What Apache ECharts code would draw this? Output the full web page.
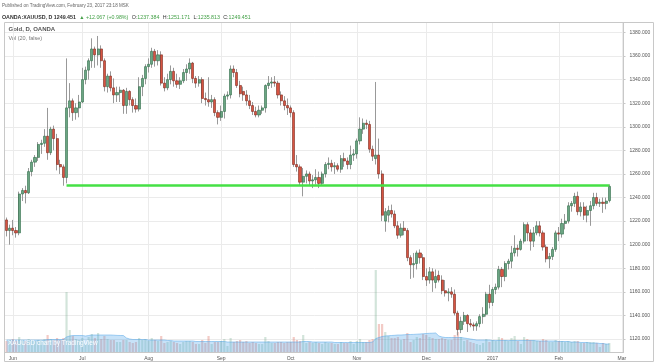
<!DOCTYPE html>
<html><head><meta charset="utf-8">
<script src="https://cdn.jsdelivr.net/npm/echarts@6/dist/echarts.min.js"></script>
<style>html,body{margin:0;padding:0;background:#fff}#c{width:654px;height:364px}</style>
</head><body><div id="c"></div><script>
const dates = ['2016-05-30','2016-05-31',
'2016-06-01','2016-06-02','2016-06-03','2016-06-06','2016-06-07','2016-06-08','2016-06-09','2016-06-10','2016-06-13','2016-06-14','2016-06-15','2016-06-16','2016-06-17','2016-06-20','2016-06-21','2016-06-22','2016-06-23','2016-06-24','2016-06-27','2016-06-28','2016-06-29','2016-06-30',
'2016-07-01','2016-07-04','2016-07-05','2016-07-06','2016-07-07','2016-07-08','2016-07-11','2016-07-12','2016-07-13','2016-07-14','2016-07-15','2016-07-18','2016-07-19','2016-07-20','2016-07-21','2016-07-22','2016-07-25','2016-07-26','2016-07-27','2016-07-28','2016-07-29',
'2016-08-01','2016-08-02','2016-08-03','2016-08-04','2016-08-05','2016-08-08','2016-08-09','2016-08-10','2016-08-11','2016-08-12','2016-08-15','2016-08-16','2016-08-17','2016-08-18','2016-08-19','2016-08-22','2016-08-23','2016-08-24','2016-08-25','2016-08-26','2016-08-29','2016-08-30','2016-08-31',
'2016-09-01','2016-09-02','2016-09-05','2016-09-06','2016-09-07','2016-09-08','2016-09-09','2016-09-12','2016-09-13','2016-09-14','2016-09-15','2016-09-16','2016-09-19','2016-09-20','2016-09-21','2016-09-22','2016-09-23','2016-09-26','2016-09-27','2016-09-28','2016-09-29','2016-09-30',
'2016-10-03','2016-10-04','2016-10-05','2016-10-06','2016-10-07','2016-10-10','2016-10-11','2016-10-12','2016-10-13','2016-10-14','2016-10-17','2016-10-18','2016-10-19','2016-10-20','2016-10-21','2016-10-24','2016-10-25','2016-10-26','2016-10-27','2016-10-28','2016-10-31',
'2016-11-01','2016-11-02','2016-11-03','2016-11-04','2016-11-07','2016-11-08','2016-11-09','2016-11-10','2016-11-11','2016-11-14','2016-11-15','2016-11-16','2016-11-17','2016-11-18','2016-11-21','2016-11-22','2016-11-23','2016-11-24','2016-11-25','2016-11-28','2016-11-29','2016-11-30',
'2016-12-01','2016-12-02','2016-12-05','2016-12-06','2016-12-07','2016-12-08','2016-12-09','2016-12-12','2016-12-13','2016-12-14','2016-12-15','2016-12-16','2016-12-19','2016-12-20','2016-12-21','2016-12-22','2016-12-23','2016-12-27','2016-12-28','2016-12-29','2016-12-30',
'2017-01-03','2017-01-04','2017-01-05','2017-01-06','2017-01-09','2017-01-10','2017-01-11','2017-01-12','2017-01-13','2017-01-16','2017-01-17','2017-01-18','2017-01-19','2017-01-20','2017-01-23','2017-01-24','2017-01-25','2017-01-26','2017-01-27','2017-01-30','2017-01-31',
'2017-02-01','2017-02-02','2017-02-03','2017-02-06','2017-02-07','2017-02-08','2017-02-09','2017-02-10','2017-02-13','2017-02-14','2017-02-15','2017-02-16','2017-02-17','2017-02-20','2017-02-21','2017-02-22','2017-02-23','2017-02-24','2017-02-27','2017-02-28','2017-03-01'];

const opens = [1221,1212,1214,1212,1210,1243,1246,1244,1262,1270,
1274,1285,1286,1292,1278,1298,1290,1268,1266,1257,
1316,1322,1312,1316,1321,1340,1348,1356,1366,1361,
1366,1356,1334,1343,1333,1327,1329,1331,1318,1330,
1323,1318,1315,1334,1341,1351,1353,1364,1356,1361,
1337,1333,1340,1347,1339,1336,1339,1346,1349,1354,
1341,1337,1340,1324,1323,1321,1323,1312,1308,1313,
1326,1327,1349,1346,1335,1330,1327,1322,1318,1313,
1310,1314,1316,1335,1337,1338,1337,1327,1322,1318,
1316,1312,1268,1266,1253,1258,1260,1254,1255,1257,
1252,1260,1268,1269,1266,1267,1264,1273,1271,1268,
1276,1277,1288,1298,1303,1302,1281,1273,1276,1260,
1220,1225,1229,1226,1216,1208,1214,1212,1189,1183,
1184,1193,1189,1173,1170,1177,1168,1174,1170,1161,
1159,1160,1158,1142,1128,1135,1140,1133,1132,1131,
1133,1139,1141,1158,1151,1162,1164,1179,1173,1184,
1186,1193,1197,1196,1203,1217,1210,1203,1210,1216,
1210,1198,1188,1190,1196,1210,1209,1218,1220,1233,
1235,1241,1228,1232,1225,1229,1233,1240,1235,1236,
1235,1237.384];
const highs = [1223,1217,1221,1215,1245,1248,1250,1265,1272,1276,
1287,1289,1298,1316,1300,1301,1294,1272,1268,1358,
1337,1324,1320,1327,1350,1351,1358,1375,1368,1377,
1369,1358,1345,1347,1341,1334,1334,1332,1333,1331,
1325,1324,1342,1344,1353,1358,1367,1366,1365,1364,
1342,1345,1352,1350,1345,1342,1349,1353,1358,1355,
1343,1343,1342,1329,1342,1327,1325,1314,1318,1328,
1330,1352,1352,1349,1339,1334,1331,1327,1321,1317,
1318,1318,1336,1343,1342,1343,1339,1330,1326,1324,
1318,1314,1276,1268,1265,1263,1262,1259,1264,1262,
1262,1270,1274,1272,1270,1269,1276,1278,1274,1284,
1281,1290,1308,1307,1306,1305,1284,1338,1290,1263,
1231,1233,1234,1229,1220,1218,1220,1214,1191,1193,
1195,1196,1192,1180,1181,1180,1179,1178,1174,1170,
1163,1164,1162,1144,1139,1143,1141,1137,1134,1135,
1141,1147,1160,1166,1164,1167,1182,1181,1186,1188,
1199,1208,1200,1205,1219,1219,1213,1215,1220,1220,
1212,1200,1193,1198,1212,1215,1222,1226,1236,1237,
1244,1245,1236,1236,1233,1237,1244,1244,1239,1240,
1240,1251.171];
const lows = [1207,1200,1208,1206,1208,1237,1235,1243,1258,1266,
1271,1277,1283,1272,1276,1280,1263,1260,1250,1252,
1308,1305,1306,1308,1320,1336,1340,1350,1350,1352,
1350,1330,1329,1330,1320,1321,1321,1311,1311,1318,
1312,1312,1313,1326,1336,1346,1350,1351,1352,1335,
1330,1331,1336,1334,1333,1332,1337,1339,1345,1337,
1333,1334,1320,1318,1317,1316,1309,1302,1305,1307,
1323,1324,1342,1333,1325,1322,1318,1315,1310,1308,
1308,1311,1312,1332,1333,1334,1324,1318,1314,1310,
1308,1266,1262,1250,1241,1252,1250,1248,1251,1248,
1250,1257,1264,1262,1260,1262,1261,1266,1264,1264,
1271,1273,1285,1294,1298,1278,1271,1268,1256,1220,
1211,1219,1223,1214,1205,1206,1208,1186,1171,1172,
1179,1184,1170,1165,1167,1160,1163,1168,1158,1156,
1152,1155,1140,1123,1125,1132,1126,1130,1127,1127,
1130,1133,1139,1146,1148,1158,1162,1164,1169,1179,
1180,1190,1190,1195,1201,1203,1195,1198,1208,1207,
1195,1185,1180,1187,1194,1203,1206,1213,1218,1228,
1232,1225,1224,1221,1219,1216,1230,1233,1232,1227,
1230,1235.813];
const closes = [1212,1214,1212,1210,1243,1246,1244,1262,1270,1274,
1285,1286,1292,1278,1298,1290,1268,1266,1257,1316,
1322,1312,1316,1321,1340,1348,1356,1366,1361,1366,
1356,1334,1343,1333,1327,1329,1331,1318,1330,1323,
1318,1315,1334,1341,1351,1353,1364,1356,1361,1337,
1333,1340,1347,1339,1336,1339,1346,1349,1354,1341,
1337,1340,1324,1323,1321,1323,1312,1308,1313,1326,
1327,1349,1346,1335,1328,1327,1322,1318,1313,1310,
1314,1316,1335,1337,1338,1337,1327,1322,1318,1316,
1312,1268,1266,1253,1258,1260,1254,1255,1257,1252,
1260,1268,1269,1266,1267,1264,1273,1271,1268,1276,
1277,1288,1298,1303,1302,1281,1275,1276,1260,1225,
1228,1229,1226,1216,1208,1214,1212,1189,1183,1184,
1193,1189,1173,1170,1177,1170,1173,1170,1161,1159,
1160,1158,1142,1128,1135,1140,1133,1132,1131,1133,
1139,1141,1158,1151,1162,1164,1179,1173,1184,1186,
1193,1197,1196,1203,1217,1210,1203,1210,1216,1210,
1198,1188,1190,1196,1210,1209,1218,1220,1233,1235,
1241,1228,1232,1225,1229,1233,1240,1235,1236,1235,
1237,1249.451];
const volumes = [11,12,13,11,15,12,11,13,12,11,12,12,13,17,13,12,14,12,14,
60,
22,16,13,12,14,8,15,18,14,19,13,16,13,12,12,10,10,12,12,10,9,10,14,12,13,
11,14,12,11,16,9,10,11,10,9,8,10,11,11,10,8,8,12,9,16,8,10,10,
11,13,6,14,10,11,12,10,11,9,10,9,8,8,15,11,9,9,10,10,9,10,
10,15,12,11,17,9,10,9,10,9,8,10,9,9,8,8,10,9,9,11,8,
11,13,10,10,12,13,82,28,28,20,16,14,14,15,12,13,19,10,12,15,14,18,
17,15,14,13,13,14,13,12,12,17,20,15,11,12,10,9,8,7,9,13,10,
12,11,15,14,12,11,14,16,11,8,15,13,12,12,11,11,13,12,10,10,12,
11,11,10,11,10,11,11,9,9,10,10,10,9,5,9,8,9];
const volumeMA = [12,12,12,12,12,12,12,12,12,12,12,12,12,12.5,12.5,12.5,12.5,12.5,12.5,
15,16,16.5,16.5,16.5,16.5,16,16.5,17,17,17,17,17,17,17,16.8,16.6,16.5,16.5,14,13,12.5,12.5,12.5,12.5,12.5,
12,12,12,12,12,12,11.5,11.5,11,11,11,11,11,11,11,10.5,10.5,10.5,10.5,10.5,10.5,10.5,10.5,
10.5,10.5,10,10,10,10,10,10,10,10,10,10,10,10,10,10,10,10,10,10,10,10,
10,10,10,10,10.5,10.5,10.5,10,10,10,10,10,10,10,9.5,9.5,9.5,9.5,9.5,9.5,9.5,
9.5,9.5,9.5,9.5,9.5,10,13.5,14.5,15.5,16,16.3,16.5,16.7,17,17,17.2,17.5,17.5,17.6,17.8,18,18.3,
18.5,18.7,18.8,19,16,15,14.5,14.5,14.5,14.5,14.5,14.5,14,13.5,13,12.5,12,12,12,12,12,
11.5,11.5,11.5,11.5,11.5,11.5,11.5,11.5,11.5,11.5,11.5,11.5,11.5,11.5,11.2,11,11,11,11,11,11,
10.5,10.5,10.5,10.5,10,10,10,9.5,9.5,9.5,9,9,9,8.5,8.5,8,8];
const monthStarts = ['2016-06-01','2016-07-01','2016-08-01','2016-09-01','2016-10-03','2016-11-01','2016-12-01','2017-01-03','2017-02-01','2017-03-01'];
const monthNames = ['Jun','Jul','Aug','Sep','Oct','Nov','Dec','2017','Feb','Mar'];
const priceTicks = [1120,1140,1160,1180,1200,1220,1240,1260,1280,1300,1320,1340,1360,1380];
const levelPrice = 1250.3;
const levelDates = ['2016-06-24','2017-02-23'];
const lastPrice = 1249.451;
const publishedText = 'Published on TradingView.com, February 23, 2017 23:18 MSK';
const symbolText = '{b|OANDA:XAUUSD, D 1249.451} {g|\u25B2 +12.067 (+0.98%)} {d|O:}{g|1237.384} {d|H:}{g|1251.171} {d|L:}{g|1235.813} {d|C:}{g|1249.451}';
const legendTitle = 'Gold, D, OANDA';
const legendVol = 'Vol (20, false)';
const watermark = 'XAUUSD chart by TradingView';

const FONT = 'Liberation Sans, Arial, sans-serif';
const upColor = '#6ba583', upBorder = '#2f6b48', downColor = '#d75442', downBorder = '#7a2a1f';
const monthMap = {};
monthStarts.forEach((d, i) => { monthMap[d] = monthNames[i]; });
const isMonth = (i, v) => monthMap[v] !== undefined;

const wickData = opens.map((o, i) => [o, closes[i], lows[i], highs[i]]);
const bodyData = opens.map((o, i) => [o, closes[i], Math.min(o, closes[i]), Math.max(o, closes[i])]);
const volData = volumes.map((v, i) => ({
  value: v,
  itemStyle: { color: closes[i] >= opens[i] ? 'rgba(107,165,131,0.3)' : 'rgba(215,84,66,0.3)' }
}));

const chart = echarts.init(document.getElementById('c'), null, { renderer: 'canvas' });
chart.setOption({
  animation: false,
  textStyle: { fontFamily: FONT },
  grid: [
    { left: 5, right: 30.5, top: 23, bottom: 12 },
    { left: 5, right: 30.5, top: 252, bottom: 12 }
  ],
  xAxis: [
    { type: 'category', gridIndex: 0, data: dates, boundaryGap: true,
      axisLine: { show: true, lineStyle: { color: '#c8c8c8' } },
      axisTick: { show: false },
      axisLabel: { interval: isMonth, formatter: v => monthMap[v] || '', fontSize: 5, color: '#555', margin: 4, fontFamily: FONT },
      splitLine: { show: true, interval: isMonth, alignWithLabel: true, lineStyle: { color: '#ebebeb', width: 1 } } },
    { type: 'category', gridIndex: 1, data: dates, boundaryGap: true, show: false }
  ],
  yAxis: [
    { type: 'value', gridIndex: 0, position: 'right', min: 1109, max: 1388,
      axisLine: { show: true, lineStyle: { color: '#c8c8c8' } },
      axisTick: { show: true, customValues: priceTicks, length: 2, lineStyle: { color: '#c8c8c8' } },
      axisLabel: { customValues: priceTicks, formatter: v => v.toFixed(3), fontSize: 5, color: '#555', margin: 6, fontFamily: FONT },
      splitLine: { show: true, lineStyle: { color: '#ebebeb', width: 1 } } },
    { type: 'value', gridIndex: 1, min: 0, max: 100, show: false }
  ],
  series: [
    { type: 'bar', xAxisIndex: 1, yAxisIndex: 1, data: volData, barWidth: 2.2, z: 1, silent: true },
    { type: 'line', xAxisIndex: 1, yAxisIndex: 1, data: volumeMA, showSymbol: false, symbol: 'none', z: 2, silent: true,
      lineStyle: { color: 'rgba(79,163,232,0.5)', width: 1 },
      areaStyle: { color: 'rgba(79,163,232,0.45)' } },
    { type: 'candlestick', xAxisIndex: 0, yAxisIndex: 0, data: wickData, barWidth: 0.6, z: 3, silent: true,
      itemStyle: { color: '#999', color0: '#999', borderColor: '#999', borderColor0: '#999', borderColorDoji: '#999', borderWidth: 1 } },
    { type: 'candlestick', xAxisIndex: 0, yAxisIndex: 0, data: bodyData, barWidth: 2.6, z: 4, silent: true,
      itemStyle: { color: upColor, color0: downColor, borderColor: upBorder, borderColor0: downBorder, borderColorDoji: '#555', borderWidth: 0.6 },
      markLine: { silent: true, symbol: ['none', 'none'], data: [{ yAxis: lastPrice }],
        lineStyle: { opacity: 0 },
        label: { show: true, position: 'end', formatter: () => lastPrice.toFixed(3), color: '#fff', backgroundColor: upColor,
          fontSize: 5, fontFamily: FONT, padding: [2, 4, 2, 4], distance: 1 } } },
    { type: 'line', xAxisIndex: 0, yAxisIndex: 0, data: levelDates.map(d => [d, levelPrice]), showSymbol: false, symbol: 'none', z: 5, silent: true,
      lineStyle: { color: '#45e045', width: 2.5 } }
  ],
  graphic: [
    { type: 'rect', shape: { x: 4.5, y: 22.5, width: 649, height: 339 }, style: { fill: 'none', stroke: '#c8c8c8', lineWidth: 1 }, z: 100 },
    { type: 'text', left: 2, top: 3, style: { text: publishedText, fontSize: 4.6, fontFamily: FONT, fill: '#666' } },
    { type: 'text', left: 2, top: 11.5, style: { text: symbolText, fontFamily: FONT,
        rich: { b: { fontSize: 5.3, fontWeight: 'bold', fill: '#333', fontFamily: FONT },
                d: { fontSize: 5.3, fill: '#333', fontFamily: FONT },
                g: { fontSize: 5.3, fill: '#43a047', fontFamily: FONT } } } },
    { type: 'text', left: 8.5, top: 26.5, style: { text: legendTitle, fontSize: 6, fontWeight: 'bold', fontFamily: FONT, fill: '#555' } },
    { type: 'text', left: 8.5, top: 35, style: { text: legendVol, fontSize: 5.5, fontFamily: FONT, fill: '#777' } },
    { type: 'text', left: 8, top: 339.5, style: { text: watermark, fontSize: 6.5, fontFamily: FONT, fill: 'rgba(255,255,255,0.95)' }, z: 50 }
  ]
});
</script></body></html>
